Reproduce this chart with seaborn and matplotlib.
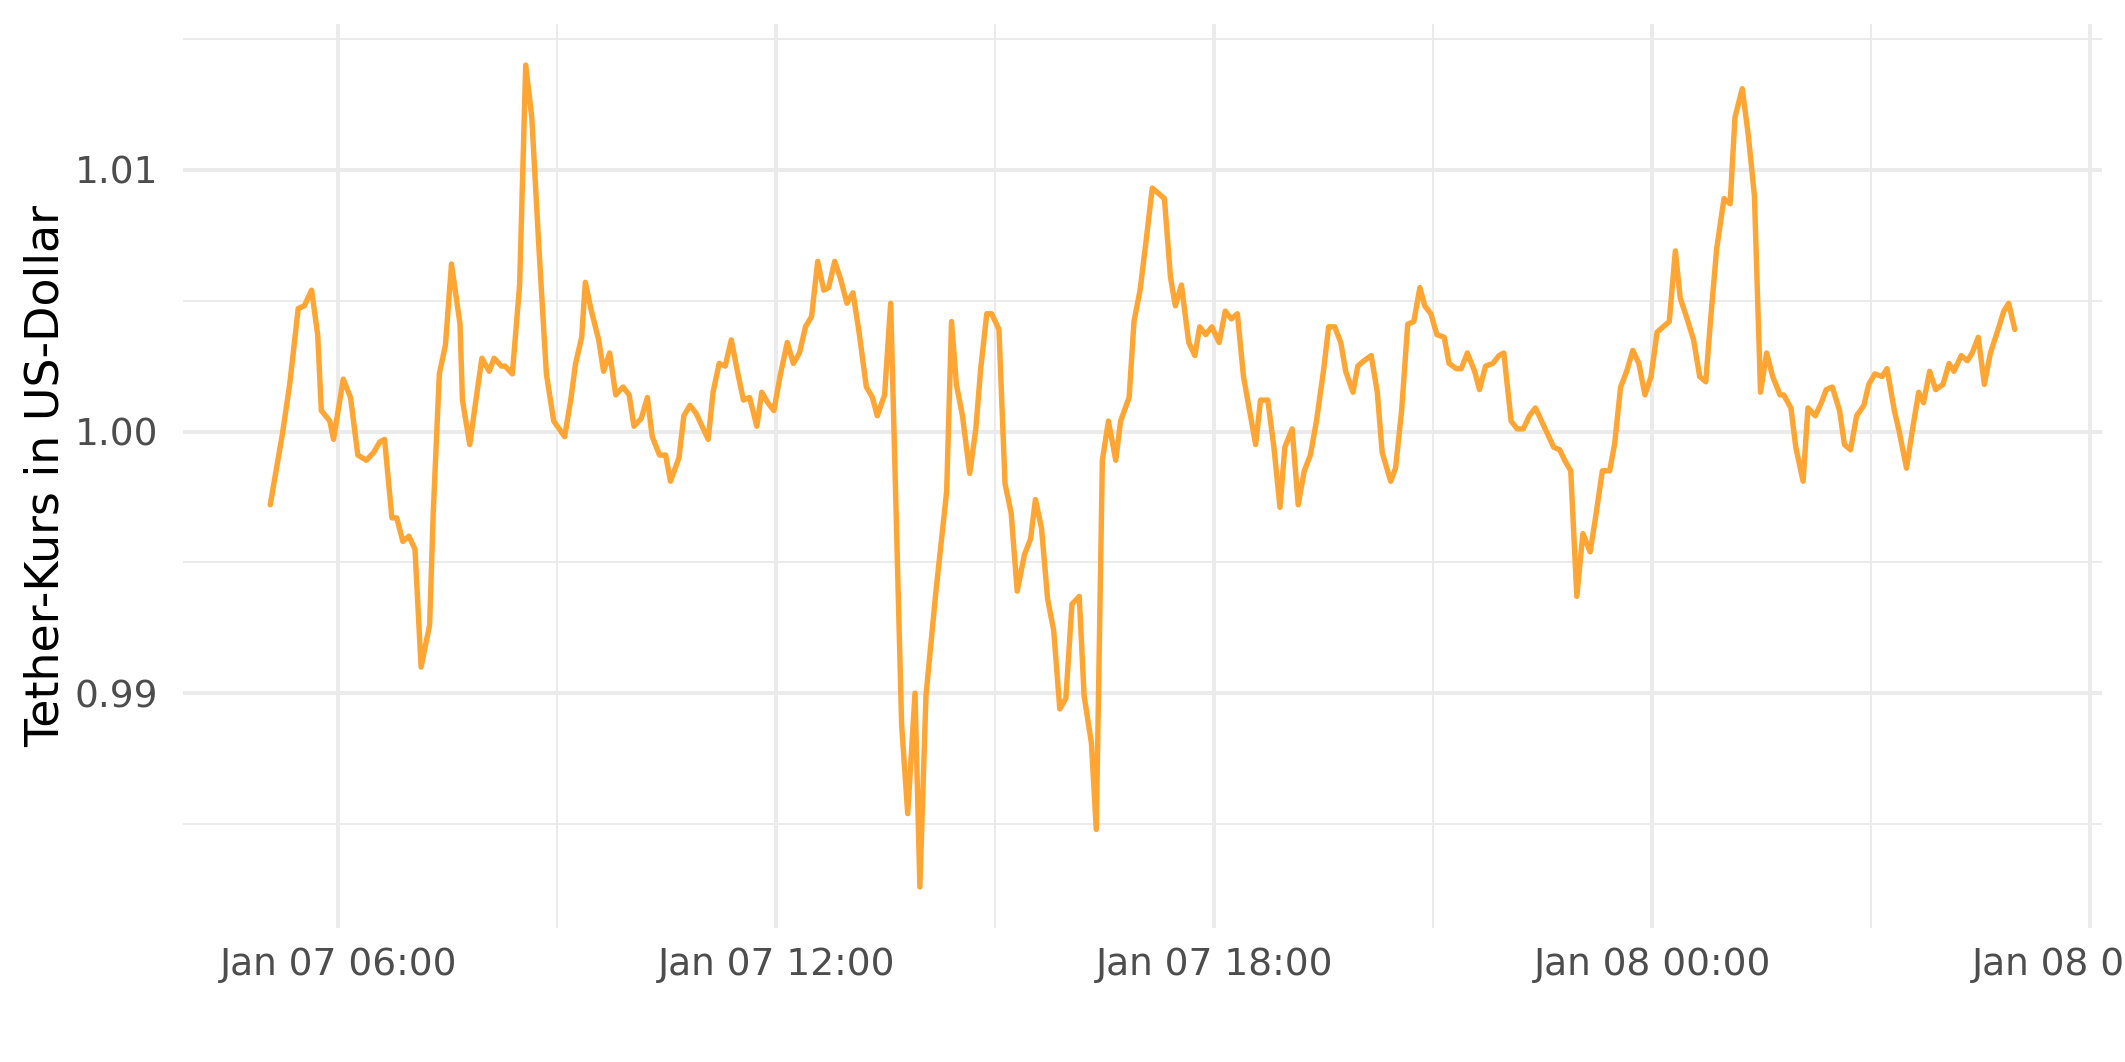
import numpy as np
import pandas as pd
import matplotlib
matplotlib.use("Agg")
import matplotlib.pyplot as plt
import matplotlib.dates as mdates
import matplotlib.ticker as mticker
import seaborn as sns

# minutes after 2024-01-07 00:00
minutes = [
    304, 314, 320, 327, 332, 338, 343, 346, 353, 356, 364, 370, 376, 383, 389, 394, 398, 404, 408, 413,
    418, 423, 428, 435, 438, 443, 448, 453, 460, 462, 468, 474, 478, 484,
    488, 494, 497, 503, 509, 514, 519, 525, 531, 537, 546, 551, 555, 560, 563, 568, 574, 578, 583, 588,
    594, 599, 603, 609, 614, 618, 624, 629, 633, 640, 644, 649, 654, 660, 664,
    668, 673, 678, 683, 688, 693, 698, 704, 708, 713, 718, 723, 729, 734, 739, 744, 749, 754, 759, 763,
    768, 773, 778, 783, 788, 794, 799, 803, 809, 814, 823, 828, 834, 838, 843,
    851, 860, 864, 868, 873, 879, 884, 888, 893, 897, 903, 908, 913, 918, 924, 929, 933, 938, 943, 948,
    953, 958, 963, 969, 973, 979, 983, 988, 993, 999, 1003, 1010, 1014, 1019,
    1024, 1029, 1034, 1039, 1044, 1048, 1053, 1059, 1064, 1068, 1073, 1078, 1084, 1089, 1094, 1099,
    1104, 1109, 1114, 1118, 1124, 1129, 1134, 1138, 1144, 1149, 1154, 1159, 1164, 1170, 1174, 1179,
    1184, 1188, 1194, 1198, 1203,
    1209, 1214, 1218, 1225, 1229, 1234, 1239, 1244, 1249, 1253, 1258, 1263, 1269, 1273, 1279, 1283,
    1288, 1294, 1298, 1303, 1309, 1314, 1318, 1324, 1329, 1334, 1339, 1344, 1349, 1354, 1359, 1364,
    1368, 1373, 1378, 1383,
    1389, 1394, 1399, 1405, 1409, 1414, 1419, 1424, 1429, 1434, 1439, 1444, 1449, 1454, 1459, 1463,
    1468, 1474, 1479, 1484, 1488, 1493, 1499, 1504, 1508, 1514, 1519, 1524, 1529, 1534, 1539, 1545,
    1548, 1554, 1558, 1564,
    1568, 1574, 1579, 1583, 1588, 1594, 1598, 1603, 1608, 1614, 1618, 1623, 1629, 1633, 1639, 1643,
    1649, 1654, 1659, 1663, 1668, 1673, 1679, 1684, 1688, 1694, 1699, 1703, 1708, 1713, 1718, 1725,
    1729, 1733, 1738,
]

price = [
    0.9972, 0.9999, 1.0018, 1.0047, 1.0048, 1.0054, 1.0037, 1.0008, 1.0004, 0.9997, 1.0020, 1.0013,
    0.9991, 0.9989, 0.9992, 0.9996, 0.9997, 0.9967, 0.9967, 0.9958,
    0.9960, 0.9955, 0.9910, 0.9926, 0.9969, 1.0022, 1.0033, 1.0064, 1.0041, 1.0012, 0.9995, 1.0015,
    1.0028, 1.0023,
    1.0028, 1.0025, 1.0025, 1.0022, 1.0056, 1.0140, 1.0120, 1.0069, 1.0022, 1.0004, 0.9998, 1.0012,
    1.0026, 1.0036, 1.0057, 1.0046, 1.0035, 1.0023, 1.0030, 1.0014,
    1.0017, 1.0014, 1.0002, 1.0005, 1.0013, 0.9998, 0.9991, 0.9991, 0.9981, 0.9990, 1.0006, 1.0010,
    1.0007, 1.0001, 0.9997,
    1.0015, 1.0026, 1.0025, 1.0035, 1.0023, 1.0012, 1.0013, 1.0002, 1.0015, 1.0011, 1.0008, 1.0021,
    1.0034, 1.0026, 1.0030, 1.0040, 1.0044, 1.0065, 1.0054, 1.0055,
    1.0065, 1.0058, 1.0049, 1.0053, 1.0038, 1.0017, 1.0013, 1.0006, 1.0014, 1.0049, 0.9888, 0.9854,
    0.9900, 0.9826, 0.9899,
    0.9938, 0.9977, 1.0042, 1.0018, 1.0006, 0.9984, 1.0001, 1.0024, 1.0045, 1.0045, 1.0039, 0.9980,
    0.9969, 0.9939, 0.9953, 0.9959, 0.9974, 0.9963, 0.9936, 0.9924,
    0.9894, 0.9898, 0.9934, 0.9937, 0.9899, 0.9881, 0.9848, 0.9989, 1.0004, 0.9989, 1.0004, 1.0013,
    1.0042, 1.0054,
    1.0073, 1.0093, 1.0091, 1.0089, 1.0059, 1.0048, 1.0056, 1.0034, 1.0029, 1.0040, 1.0037, 1.0040,
    1.0034, 1.0046, 1.0043, 1.0045,
    1.0021, 1.0008, 0.9995, 1.0012, 1.0012, 0.9994, 0.9971, 0.9994, 1.0001, 0.9972, 0.9985, 0.9991,
    1.0004, 1.0024, 1.0040, 1.0040,
    1.0034, 1.0023, 1.0015, 1.0025, 1.0027,
    1.0029, 1.0015, 0.9992, 0.9981, 0.9986, 1.0008, 1.0041, 1.0042, 1.0055, 1.0048, 1.0045, 1.0037,
    1.0036, 1.0026, 1.0024, 1.0024,
    1.0030, 1.0023, 1.0016, 1.0025, 1.0026, 1.0029, 1.0030, 1.0004, 1.0001, 1.0001, 1.0006, 1.0009,
    1.0004, 0.9999, 0.9994, 0.9993,
    0.9989, 0.9985, 0.9937, 0.9961,
    0.9954, 0.9969, 0.9985, 0.9985, 0.9995, 1.0017, 1.0023, 1.0031, 1.0026, 1.0014, 1.0021, 1.0038,
    1.0040, 1.0042, 1.0069, 1.0051,
    1.0044, 1.0035, 1.0021, 1.0019, 1.0043, 1.0070, 1.0089, 1.0087, 1.0120, 1.0131, 1.0113, 1.0090,
    1.0015, 1.0030, 1.0021, 1.0014,
    1.0014, 1.0009, 0.9994, 0.9981,
    1.0009, 1.0006, 1.0011, 1.0016, 1.0017, 1.0008, 0.9995, 0.9993, 1.0006, 1.0010, 1.0018, 1.0022,
    1.0021, 1.0024, 1.0008, 1.0000,
    0.9986, 1.0001, 1.0015, 1.0011, 1.0023, 1.0016, 1.0018, 1.0026, 1.0023, 1.0029, 1.0027, 1.0030,
    1.0036, 1.0018, 1.0030, 1.0040,
    1.0046, 1.0049, 1.0039,
]

y_title = "Tether-Kurs in US-Dollar"
y_major = [0.99, 1.00, 1.01]
y_minor = [0.985, 0.995, 1.005, 1.015]

base = pd.Timestamp("2024-01-07 00:00")
df = pd.DataFrame({
    "zeit": base + pd.to_timedelta(minutes, unit="m"),
    "kurs": price,
})

sns.set_theme(style="white")
plt.rcParams["font.family"] = ["DejaVu Sans"]

fig = plt.figure(figsize=(2125 / 300, 1062 / 300), dpi=300)
ax = fig.add_axes([183 / 2125, 1 - 928 / 1062, (2102 - 183) / 2125, (928 - 24) / 1062])

sns.lineplot(data=df, x="zeit", y="kurs", ax=ax, color="#FFA533", linewidth=1.3, zorder=3)

# ggplot-like expansion of 5%
xnum = mdates.date2num(df["zeit"])
xr = xnum.max() - xnum.min()
ax.set_xlim(xnum.min() - 0.05 * xr, xnum.max() + 0.05 * xr)
yr = max(price) - min(price)
ax.set_ylim(min(price) - 0.05 * yr, max(price) + 0.05 * yr)

ax.xaxis.set_major_locator(mdates.HourLocator(byhour=[0, 6, 12, 18]))
ax.xaxis.set_minor_locator(mdates.HourLocator(byhour=[3, 9, 15, 21]))
ax.xaxis.set_major_formatter(mdates.DateFormatter("%b %d %H:%M"))
ax.yaxis.set_major_locator(mticker.FixedLocator(y_major))
ax.yaxis.set_minor_locator(mticker.FixedLocator(y_minor))
ax.yaxis.set_major_formatter(mticker.FormatStrFormatter("%.2f"))

ax.grid(which="major", color="#EBEBEB", linewidth=0.95)
ax.grid(which="minor", color="#EBEBEB", linewidth=0.48)
ax.set_axisbelow(True)
for s in ax.spines.values():
    s.set_visible(False)

ax.tick_params(axis="both", which="both", length=0, labelsize=9, labelcolor="#4D4D4D")
ax.tick_params(axis="x", which="major", pad=4.6)
ax.tick_params(axis="y", which="major", pad=6)

ax.set_xlabel("")
ax.set_ylabel(y_title, fontsize=11, color="black")
ax.yaxis.set_label_coords(-0.0595, 0.5)

fig.savefig("out.png", dpi=300)
